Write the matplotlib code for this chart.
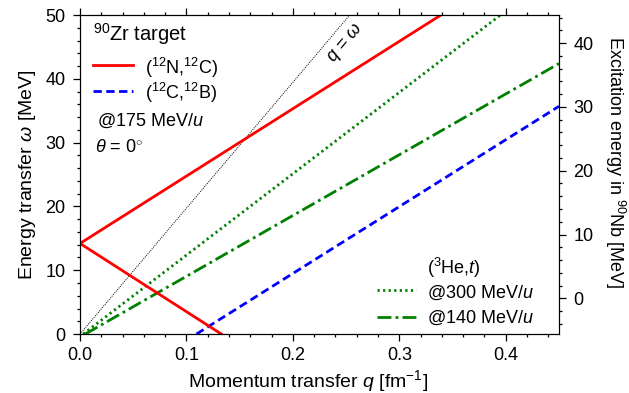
import numpy as np
import matplotlib.pyplot as plt
from matplotlib.ticker import MultipleLocator

plt.rcParams['font.family'] = ['Liberation Sans', 'DejaVu Sans']
plt.rcParams['mathtext.fontset'] = 'custom'
plt.rcParams['mathtext.rm'] = 'Liberation Sans'
plt.rcParams['mathtext.it'] = 'Liberation Sans:italic'
plt.rcParams['font.size'] = 13

# kinematic lines, (q [fm^-1], omega [MeV])
n12c_up_q = [0.0, 0.339]
n12c_up_w = [14.2, 50.0]
n12c_dn_q = [0.0, 0.1328]
n12c_dn_w = [14.2, 0.0]
c12b_q = [0.1094, 0.45]
c12b_w = [0.0, 35.7]
he300_q = [0.003, 0.395]
he300_w = [0.0, 50.0]
he140_q = [0.005, 0.45]
he140_w = [0.0, 42.4]
qw_q = [0.0, 0.2534]
qw_w = [0.0, 50.0]

ex_offset = 5.6  # omega - Ex for 90Nb

dotted = (0, (0.8, 1.2))
dashdot = (0, (5, 1.5, 1, 1.5))
dashed = (0, (3, 1.6))

fig = plt.figure(figsize=(6.29, 3.93), dpi=100)
ax = fig.add_axes([0.1272, 0.150, 0.7615, 0.8117])

ax.plot(qw_q, qw_w, color='black', lw=0.7, ls=(0, (1, 1.2)))
ax.plot(he300_q, he300_w, color='green', lw=2, ls=dotted)
ax.plot(he140_q, he140_w, color='green', lw=2, ls=dashdot)
ax.plot(c12b_q, c12b_w, color='blue', lw=2, ls=dashed)
ax.plot(n12c_up_q, n12c_up_w, color='red', lw=2)
ax.plot(n12c_dn_q, n12c_dn_w, color='red', lw=2)

ax.set_xlim(0, 0.45)
ax.set_ylim(0, 50)
ax.xaxis.set_major_locator(MultipleLocator(0.1))
ax.xaxis.set_minor_locator(MultipleLocator(0.02))
ax.yaxis.set_major_locator(MultipleLocator(10))
ax.yaxis.set_minor_locator(MultipleLocator(2))
ax.xaxis.set_major_formatter(plt.FuncFormatter(lambda v, p: '%.1f' % v))
ax.tick_params(which='both', direction='out', top=True, width=0.9)
ax.tick_params(which='major', length=5)
ax.tick_params(which='minor', length=2.5)
ax.tick_params(axis='x', which='major', pad=4.5)
ax.tick_params(axis='y', which='major', pad=5.5)
ax.set_xlabel('Momentum transfer $q$ [fm$^{-1}$]', fontsize=14, labelpad=3)
ax.set_ylabel('Energy transfer $\\omega$ [MeV]', fontsize=14, labelpad=5)
ax.xaxis.label.set_x(0.475)

ax2 = ax.twinx()
ax2.set_ylim(0 - ex_offset, 50 - ex_offset)
ax2.yaxis.set_major_locator(MultipleLocator(10))
ax2.yaxis.set_minor_locator(MultipleLocator(2))
ax2.tick_params(which='both', direction='out', width=0.9)
ax2.tick_params(which='major', length=5, pad=5.5)
ax2.tick_params(which='minor', length=2.5)
ax2.set_ylabel('Excitation energy in $^{90}$Nb [MeV]', fontsize=13,
               rotation=270, labelpad=24)
ax2.yaxis.label.set_y(0.539)

ax.text(0.2497, 45.5, '$q$ = $\\omega$', rotation=50, fontsize=13,
        ha='center', va='center', rotation_mode='anchor')

# upper-left annotations
ax.text(0.0122, 46.0, '$^{90}$Zr target', fontsize=14.5, va='baseline')
ax.plot([0.0125, 0.05], [42.1, 42.1], color='red', lw=2)
ax.text(0.061, 40.75, '($^{12}$N,$^{12}$C)', va='baseline')
ax.plot([0.0125, 0.05], [38.1, 38.1], color='blue', lw=2, ls=dashed)
ax.text(0.061, 36.8, '($^{12}$C,$^{12}$B)', va='baseline')
ax.text(0.0156, 32.6, '@175 MeV/$u$', va='baseline')
ax.text(0.014, 28.6, '$\\theta$ = 0$^{\\circ}$', va='baseline')

# lower-right annotations
ax.text(0.326, 9.4, '($^3$He,$t$)', va='baseline')
ax.plot([0.2787, 0.3156], [6.9, 6.9], color='green', lw=2, ls=dotted)
ax.text(0.326, 5.7, '@300 MeV/$u$', va='baseline')
ax.plot([0.2787, 0.3156], [2.7, 2.7], color='green', lw=2, ls=dashdot)
ax.text(0.326, 1.7, '@140 MeV/$u$', va='baseline')

fig.savefig('out.png', dpi=100)
